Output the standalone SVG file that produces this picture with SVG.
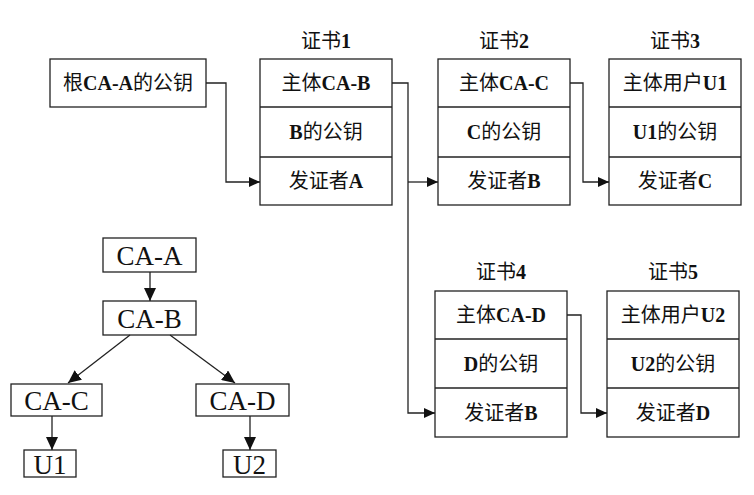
<svg xmlns="http://www.w3.org/2000/svg" width="754" height="495" viewBox="0 0 754 495">
<defs>
<style>
.box{fill:#fff;stroke:#222;stroke-width:1.3}
.ln{fill:none;stroke:#222;stroke-width:1.3}
.t{font-family:"Liberation Serif","Noto Sans CJK SC",serif;font-size:20px;fill:#111;text-anchor:middle}
.b{font-weight:bold}
.tree{font-family:"Liberation Serif","Times New Roman",serif;font-size:27px;fill:#111;text-anchor:middle}
</style>
<marker id="ah" markerUnits="userSpaceOnUse" markerWidth="12" markerHeight="10" refX="11" refY="5" orient="auto">
<path d="M0,0 L11,5 L0,10 Z" fill="#111"/>
</marker>
<marker id="ah2" markerUnits="userSpaceOnUse" markerWidth="14" markerHeight="12" refX="13" refY="6" orient="auto">
<path d="M0,0 L13,6 L0,12 Z" fill="#111"/>
</marker>
</defs>
<rect width="754" height="495" fill="#fff"/>

<g id="root-key">
<rect class="box" x="50" y="59" width="156" height="48"/>
<text class="t" x="128" y="90">根<tspan class="b">CA-A</tspan>的公钥</text>
</g>

<g id="cert1">
<text class="t" x="326" y="48">证书<tspan class="b">1</tspan></text>
<rect class="box" x="260" y="59" width="132" height="146"/>
<line class="ln" x1="260" y1="107" x2="392" y2="107"/>
<line class="ln" x1="260" y1="157" x2="392" y2="157"/>
<text class="t" x="326" y="90">主体<tspan class="b">CA-B</tspan></text>
<text class="t" x="326" y="139"><tspan class="b">B</tspan>的公钥</text>
<text class="t" x="326" y="188">发证者<tspan class="b">A</tspan></text>
</g>

<g id="cert2">
<text class="t" x="504" y="48">证书<tspan class="b">2</tspan></text>
<rect class="box" x="438" y="59" width="132" height="146"/>
<line class="ln" x1="438" y1="107" x2="570" y2="107"/>
<line class="ln" x1="438" y1="157" x2="570" y2="157"/>
<text class="t" x="504" y="90">主体<tspan class="b">CA-C</tspan></text>
<text class="t" x="504" y="139"><tspan class="b">C</tspan>的公钥</text>
<text class="t" x="504" y="188">发证者<tspan class="b">B</tspan></text>
</g>

<g id="cert3">
<text class="t" x="675" y="48">证书<tspan class="b">3</tspan></text>
<rect class="box" x="609" y="59" width="132" height="146"/>
<line class="ln" x1="609" y1="107" x2="741" y2="107"/>
<line class="ln" x1="609" y1="157" x2="741" y2="157"/>
<text class="t" x="675" y="90">主体用户<tspan class="b">U1</tspan></text>
<text class="t" x="675" y="139"><tspan class="b">U1</tspan>的公钥</text>
<text class="t" x="675" y="188">发证者<tspan class="b">C</tspan></text>
</g>

<g id="cert4">
<text class="t" x="501" y="279">证书<tspan class="b">4</tspan></text>
<rect class="box" x="435" y="291" width="132" height="146"/>
<line class="ln" x1="435" y1="339" x2="567" y2="339"/>
<line class="ln" x1="435" y1="388" x2="567" y2="388"/>
<text class="t" x="501" y="322">主体<tspan class="b">CA-D</tspan></text>
<text class="t" x="501" y="371"><tspan class="b">D</tspan>的公钥</text>
<text class="t" x="501" y="420">发证者<tspan class="b">B</tspan></text>
</g>

<g id="cert5">
<text class="t" x="673" y="279">证书<tspan class="b">5</tspan></text>
<rect class="box" x="607" y="291" width="132" height="146"/>
<line class="ln" x1="607" y1="339" x2="739" y2="339"/>
<line class="ln" x1="607" y1="388" x2="739" y2="388"/>
<text class="t" x="673" y="322">主体用户<tspan class="b">U2</tspan></text>
<text class="t" x="673" y="371"><tspan class="b">U2</tspan>的公钥</text>
<text class="t" x="673" y="420">发证者<tspan class="b">D</tspan></text>
</g>

<g id="tree-CA-A">
<rect class="box" x="103" y="238" width="93" height="34"/>
<text class="tree" x="149.5" y="265">CA-A</text>
</g>
<g id="tree-CA-B">
<rect class="box" x="103" y="301" width="93" height="34"/>
<text class="tree" x="149.5" y="328">CA-B</text>
</g>
<g id="tree-CA-C">
<rect class="box" x="11" y="384" width="91" height="32"/>
<text class="tree" x="56.5" y="410">CA-C</text>
</g>
<g id="tree-CA-D">
<rect class="box" x="196" y="384" width="93" height="32"/>
<text class="tree" x="242.5" y="410">CA-D</text>
</g>
<g id="tree-U1">
<rect class="box" x="24" y="450" width="52" height="27"/>
<text class="tree" x="50" y="474">U1</text>
</g>
<g id="tree-U2">
<rect class="box" x="223" y="450" width="53" height="27"/>
<text class="tree" x="249.5" y="474">U2</text>
</g>

<g id="connectors">
<polyline class="ln" points="206,83 226,83 226,182 260,182" marker-end="url(#ah)"/>
<polyline class="ln" points="392,83 408,83 408,413 435,413" marker-end="url(#ah)"/>
<polyline class="ln" points="408,182 438,182" marker-end="url(#ah)"/>
<polyline class="ln" points="570,83 583,83 583,182 609,182" marker-end="url(#ah)"/>
<polyline class="ln" points="567,315 581,315 581,413 607,413" marker-end="url(#ah)"/>
<line class="ln" x1="150" y1="272" x2="150" y2="301" marker-end="url(#ah2)"/>
<line class="ln" x1="130" y1="335" x2="68" y2="383" marker-end="url(#ah2)"/>
<line class="ln" x1="170" y1="335" x2="235" y2="383" marker-end="url(#ah2)"/>
<line class="ln" x1="52" y1="416" x2="52" y2="450" marker-end="url(#ah2)"/>
<line class="ln" x1="250" y1="416" x2="250" y2="450" marker-end="url(#ah2)"/>
</g>
</svg>
